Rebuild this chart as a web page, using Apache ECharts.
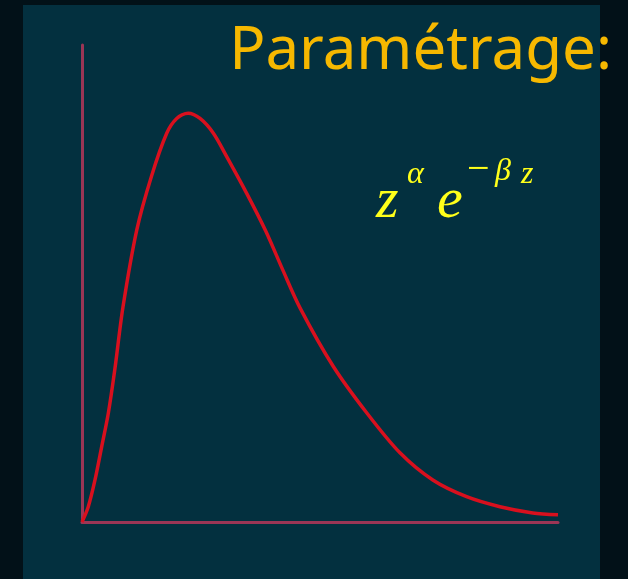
<!DOCTYPE html>
<html>
<head>
    <meta charset="utf-8">
    <title>Paramétrage</title>
    <script src="https://cdn.jsdelivr.net/npm/echarts@6/dist/echarts.min.js"></script>
    <style>
        html, body { margin: 0; padding: 0; background: #021118; }
    </style>
</head>
<body>
<div id="main" style="width: 628px;height:579px;"></div>
<script type="text/javascript">
    // courbe z^a e^(-bz) (x et y en % des axes)
    var zValues = [0, 1.32, 2.73, 4.14, 5.53, 6.9, 8.6, 11.5, 14.6, 17.8, 19.9, 22.3, 24.8, 27.6, 30.4, 34.6, 38.6, 42.2, 45.8, 52.8, 59.8, 66.8, 73.7, 80.8, 87.8, 94.7, 100];
    var densite = [0, 3.21, 8.81, 15.8, 22.8, 32.0, 45.0, 61.2, 72.5, 81.5, 84.6, 85.7, 84.6, 81.5, 76.6, 68.9, 61.0, 52.8, 44.9, 32.6, 22.9, 14.5, 8.8, 5.3, 3.2, 1.9, 1.5];
    var titre = 'Paramétrage:';

    var points = zValues.map(function (z, i) { return [z, densite[i]]; });

    var myChart = echarts.init(document.getElementById('main'));

    var axeCouleur = '#9b3555';
    var jaune = '#ffff1a';
    var serif = '"Liberation Serif", "DejaVu Serif", serif';

    var option = {
        backgroundColor: '#021118',
        animation: false,
        grid: { left: 82, top: 45, width: 476, height: 477 },
        xAxis: {
            type: 'value', min: 0, max: 100,
            axisLine: { show: true, lineStyle: { color: axeCouleur, width: 3 } },
            axisTick: { show: false }, axisLabel: { show: false }, splitLine: { show: false }
        },
        yAxis: {
            type: 'value', min: 0, max: 100,
            axisLine: { show: true, lineStyle: { color: axeCouleur, width: 3 } },
            axisTick: { show: false }, axisLabel: { show: false }, splitLine: { show: false }
        },
        graphic: [
            {
                type: 'rect', z: -10, silent: true,
                shape: { x: 23, y: 5, width: 577, height: 580 },
                style: { fill: '#03303f' }
            },
            {
                type: 'text', z: 10,
                style: {
                    text: titre, x: 612, y: 22, align: 'right', verticalAlign: 'top',
                    fill: '#f6b800', font: '60px "Noto Sans", sans-serif'
                }
            },
            { type: 'text', z: 10, style: { text: 'z', x: 376, y: 173, verticalAlign: 'top', fill: jaune, font: 'italic 58px ' + serif } },
            { type: 'text', z: 10, style: { text: 'α', x: 407, y: 159, verticalAlign: 'top', fill: jaune, font: 'italic 32px ' + serif } },
            { type: 'text', z: 10, style: { text: 'e', x: 437, y: 173, verticalAlign: 'top', fill: jaune, font: 'italic 58px ' + serif } },
            { type: 'text', z: 10, style: { text: '−', x: 467, y: 150, verticalAlign: 'top', fill: jaune, font: '40px ' + serif } },
            { type: 'text', z: 10, style: { text: 'β', x: 495, y: 156, verticalAlign: 'top', fill: jaune, font: 'italic 32px ' + serif } },
            { type: 'text', z: 10, style: { text: 'z', x: 521, y: 159, verticalAlign: 'top', fill: jaune, font: 'italic 32px ' + serif } }
        ],
        series: [{
            type: 'line',
            data: points,
            smooth: 0.3,
            showSymbol: false,
            lineStyle: { color: '#d8101e', width: 3.5 },
            z: 5
        }]
    };

    myChart.setOption(option);
</script>
</body>
</html>
